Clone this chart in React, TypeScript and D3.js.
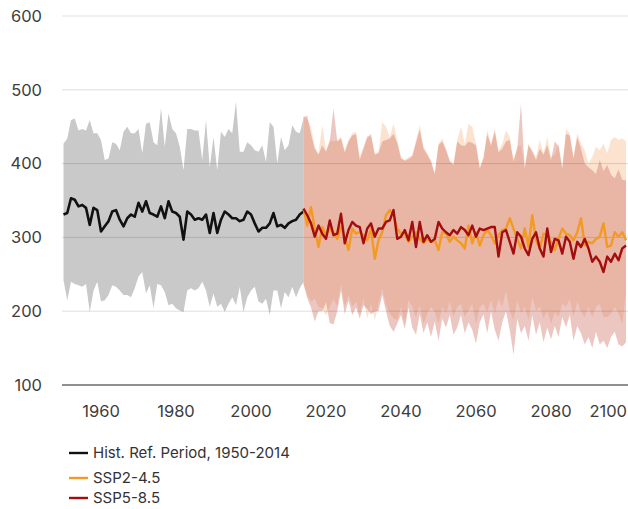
import React from "react";
import * as d3 from "d3";

const histStart = 1950;
const projStart = 2014;

const histMean = [
  331, 333, 353, 351, 342, 344, 340, 317, 340, 337,
  308, 315, 322, 335, 337, 324, 315, 326, 331, 328,
  347, 335, 349, 333, 331, 328, 342, 326, 349, 335,
  333, 328, 297, 335, 331, 324, 326, 324, 331, 306,
  333, 306, 324, 335, 331, 326, 326, 322, 324, 335,
  331, 319, 308, 313, 313, 319, 333, 315, 317, 313,
  319, 322, 324, 331, 335,
];
const histUpper = [
  427, 434, 459, 461, 445, 447, 445, 459, 441, 441,
  432, 405, 407, 429, 427, 418, 443, 450, 441, 441,
  447, 414, 454, 456, 429, 425, 475, 423, 468, 447,
  441, 423, 391, 447, 447, 445, 445, 405, 459, 395,
  436, 391, 443, 436, 447, 441, 484, 416, 416, 429,
  425, 418, 416, 425, 402, 456, 450, 400, 436, 418,
  425, 452, 443, 441, 461,
];
const histLower = [
  242, 215, 240, 237, 235, 233, 237, 199, 228, 240,
  213, 215, 222, 235, 233, 228, 222, 222, 219, 231,
  247, 253, 224, 235, 204, 237, 235, 226, 208, 210,
  204, 201, 199, 228, 231, 228, 231, 240, 228, 206,
  224, 206, 210, 199, 210, 219, 208, 233, 199, 219,
  228, 233, 213, 210, 217, 195, 228, 228, 204, 226,
  219, 233, 219, 231, 240,
];

const ssp245Mean = [
  339, 316, 341, 312, 287, 314, 303, 312, 307, 298,
  314, 301, 283, 312, 305, 307, 303, 296, 312, 271,
  296, 307, 330, 337, 330, 312, 305, 305, 294, 301,
  307, 298, 292, 298, 294, 296, 283, 307, 305, 294,
  301, 296, 292, 285, 316, 292, 307, 289, 303, 310,
  303, 292, 303, 310, 312, 326, 312, 298, 285, 312,
  287, 330, 296, 285, 305, 303, 294, 283, 298, 312,
  305, 303, 296, 307, 326, 289, 294, 292, 298, 301,
  319, 287, 289, 307, 301, 307, 296,
];
const ssp585Mean = [
  339, 330, 319, 301, 316, 305, 298, 323, 303, 305,
  332, 292, 310, 321, 316, 314, 292, 312, 319, 301,
  312, 312, 321, 323, 337, 298, 301, 310, 296, 321,
  287, 321, 294, 303, 294, 298, 321, 312, 307, 303,
  310, 305, 314, 310, 303, 316, 301, 312, 310, 312,
  314, 314, 274, 307, 310, 294, 278, 307, 301, 285,
  276, 298, 307, 285, 274, 312, 280, 298, 296, 278,
  301, 294, 271, 294, 287, 298, 285, 267, 274, 267,
  253, 274, 267, 278, 269, 285, 289,
];
const ssp245Upper = [
  463, 460, 450, 423, 414, 452, 418, 432, 430, 432,
  436, 418, 432, 441, 443, 409, 423, 438, 436, 414,
  416, 456, 450, 436, 454, 432, 409, 405, 409, 411,
  432, 452, 423, 414, 405, 387, 427, 434, 420, 405,
  400, 432, 450, 427, 454, 450, 427, 395, 409, 445,
  427, 447, 418, 427, 445, 436, 405, 423, 425, 395,
  427, 418, 409, 432, 414, 436, 409, 412, 427, 395,
  447, 441, 409, 441, 427, 418, 400, 409, 423, 418,
  427, 414, 432, 436, 432, 434, 430,
];
const ssp245Lower = [
  237, 222, 213, 217, 206, 204, 194, 206, 217, 206,
  237, 206, 222, 206, 213, 197, 217, 190, 210, 188,
  210, 231, 208, 197, 190, 188, 206, 183, 215, 206,
  192, 208, 183, 197, 206, 199, 183, 206, 197, 213,
  192, 206, 210, 192, 201, 210, 183, 206, 210, 199,
  215, 197, 217, 206, 228, 201, 188, 215, 197, 206,
  188, 219, 201, 206, 190, 201, 183, 199, 192, 210,
  206, 217, 192, 213, 199, 192, 206, 192, 206, 210,
  192, 192, 197, 206, 197, 183, 224,
];
const ssp585Upper = [
  463, 465, 440, 420, 412, 425, 416, 430, 475, 430,
  434, 415, 430, 438, 440, 405, 420, 435, 440, 412,
  414, 430, 432, 434, 440, 428, 407, 404, 406, 410,
  428, 446, 420, 412, 402, 386, 425, 430, 418, 403,
  398, 430, 425, 424, 430, 428, 425, 393, 407, 440,
  424, 444, 415, 420, 430, 432, 403, 420, 481, 393,
  425, 416, 405, 420, 412, 425, 405, 430, 424, 393,
  440, 438, 407, 436, 420, 400, 395, 391, 386, 405,
  390, 398, 385, 380, 392, 378, 377,
];
const ssp585Lower = [
  237, 218, 205, 186, 200, 200, 212, 184, 182, 200,
  228, 196, 214, 195, 205, 190, 208, 203, 196, 200,
  200, 222, 200, 180, 172, 183, 195, 176, 205, 178,
  168, 196, 170, 185, 165, 186, 160, 190, 178, 195,
  168, 178, 195, 170, 185, 175, 156, 185, 196, 170,
  200, 175, 160, 185, 200, 175, 141, 190, 170, 180,
  160, 195, 168, 185, 158, 178, 162, 180, 165, 192,
  178, 195, 160, 180, 170, 155, 165, 150, 172, 155,
  160, 150, 165, 172, 155, 152, 158,
];

const xTicks = [1960, 1980, 2000, 2020, 2040, 2060, 2080, 2100];
const yTicks = [100, 200, 300, 400, 500, 600];
const legendItems = [
  { label: "Hist. Ref. Period, 1950-2014", color: "#111111" },
  { label: "SSP2-4.5", color: "#F39A23" },
  { label: "SSP5-8.5", color: "#A30D0D" },
];

const W = 628;
const H = 509;
const FONT = "Inter, 'Noto Sans', sans-serif";

type Pt = { year: number; v: number; lo?: number; hi?: number };

export default function App() {
  const x = d3.scaleLinear().domain([1950, 2100]).range([63.5, 626]);
  const y = d3.scaleLinear().domain([100, 600]).range([385, 16]);

  const hist: Pt[] = histMean.map((v, i) => ({
    year: histStart + i,
    v,
    lo: histLower[i],
    hi: histUpper[i],
  }));
  const s245: Pt[] = ssp245Mean.map((v, i) => ({
    year: projStart + i,
    v,
    lo: ssp245Lower[i],
    hi: ssp245Upper[i],
  }));
  const s585: Pt[] = ssp585Mean.map((v, i) => ({
    year: projStart + i,
    v,
    lo: ssp585Lower[i],
    hi: ssp585Upper[i],
  }));

  const area = d3
    .area<Pt>()
    .x((d) => x(d.year))
    .y0((d) => y(d.lo as number))
    .y1((d) => y(d.hi as number));
  const line = d3
    .line<Pt>()
    .x((d) => x(d.year))
    .y((d) => y(d.v));

  return (
    <svg
      width={W}
      height={H}
      style={{ position: "absolute", left: 0, top: 0, background: "#fff" }}
      fontFamily={FONT}
    >
      <rect x={0} y={0} width={W} height={H} fill="#fff" />
      <path d={area(hist) || ""} fill="#c9c9c9" />
      <path d={area(s245) || ""} fill="rgb(248,200,160)" fillOpacity={0.5} />
      <path d={area(s585) || ""} fill="rgb(208,112,100)" fillOpacity={0.4} />

      {yTicks
        .filter((t) => t !== 100)
        .map((t) => (
          <line
            key={t}
            x1={62}
            x2={628}
            y1={y(t)}
            y2={y(t)}
            stroke="#000"
            strokeOpacity={0.13}
            strokeWidth={1}
          />
        ))}
      <line x1={62} x2={628} y1={y(100)} y2={y(100)} stroke="#6a6a6a" strokeWidth={1.5} />

      {yTicks.map((t) => (
        <text
          key={t}
          x={42}
          y={y(t)}
          dy="0.35em"
          textAnchor="end"
          fontSize={16.5}
          fill="#3d3d3d"
        >
          {t}
        </text>
      ))}
      {xTicks.map((t) => {
        const px = x(t);
        const atEdge = px + 20 > W;
        return (
          <text
            key={t}
            x={atEdge ? W - 1 : px}
            y={417}
            textAnchor={atEdge ? "end" : "middle"}
            fontSize={16.5}
            fill="#3d3d3d"
          >
            {t}
          </text>
        );
      })}

      <path d={line(hist) || ""} fill="none" stroke="#111" strokeWidth={2.6} strokeLinejoin="round" />
      <path d={line(s245) || ""} fill="none" stroke="#F39A23" strokeWidth={2.4} strokeLinejoin="round" />
      <path d={line(s585) || ""} fill="none" stroke="#A30D0D" strokeWidth={2.4} strokeLinejoin="round" />

      {legendItems.map((it, i) => {
        const ly = [453, 478, 498][i];
        return (
          <g key={it.label}>
            <line x1={69} x2={88} y1={ly} y2={ly} stroke={it.color} strokeWidth={2.4} />
            <text x={93} y={ly} dy="0.35em" fontSize={15} fill="#333">
              {it.label}
            </text>
          </g>
        );
      })}
    </svg>
  );
}
